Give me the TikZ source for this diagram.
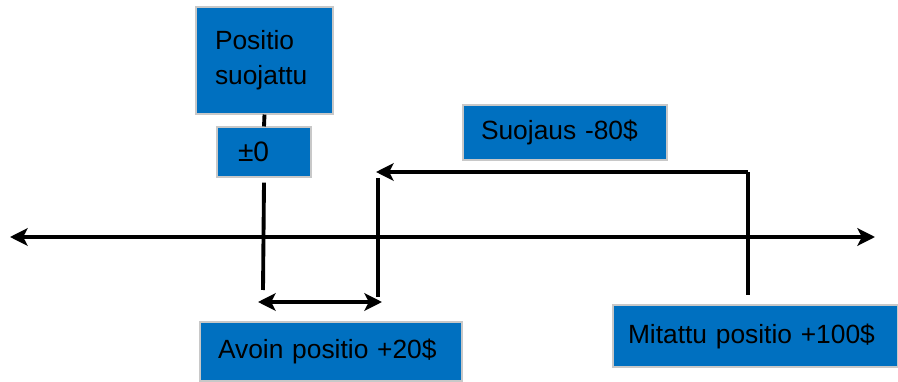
\documentclass[tikz,border=0pt]{standalone}
\usepackage{fontspec}
\setmainfont{Liberation Sans}
\usepackage{xcolor}
\usetikzlibrary{arrows.meta, positioning}

\definecolor{boxblue}{HTML}{0070C0}
\definecolor{boxedge}{HTML}{C8C8C8}

\tikzset{
    infobox/.style={draw=boxedge, line width=0.6pt, fill=boxblue, rectangle,
        align=left, font=\fontsize{15}{20}\selectfont, inner sep=0pt},
    axisline/.style={line width=2.2pt, black},
    head/.tip={Stealth[length=10pt, width=10pt, inset=2.5pt]},
    tip/.style={-head},
    twotips/.style={head-head}
}

\begin{document}
\begin{tikzpicture}
    \useasboundingbox (0,0) rectangle (17.96,7.62);

    % Boxes
    \node[infobox, minimum width=2.74cm, minimum height=2.14cm,
          text width=1.98cm] (suojattu) at (5.29,6.41) {Positio\\suojattu\\[10pt]};
    \node[infobox, minimum width=1.88cm, minimum height=1.0cm,
          text width=1.04cm, font=\fontsize{16}{20}\selectfont] (nolla) at (5.28,4.58) {±0};
    \node[infobox, minimum width=4.08cm, minimum height=1.10cm,
          text width=3.36cm] (suojaus) at (11.30,4.97) {Suojaus -80\$};
    \node[infobox, minimum width=5.24cm, minimum height=1.18cm,
          text width=4.52cm] (avoin) at (6.62,0.59) {Avoin positio +20\$};
    \node[infobox, minimum width=5.70cm, minimum height=1.24cm,
          text width=5.10cm] (mitattu) at (15.11,0.90) {Mitattu positio +100\$};

    % Points on the lines
    \coordinate (vasen) at (0.20,2.88);
    \coordinate (oikea) at (17.50,2.88);
    \coordinate (nollaala) at (5.26,1.82);
    \coordinate (suojausyla) at (7.56,4.06);
    \coordinate (suojausala) at (7.56,1.68);
    \coordinate (mitattuyla) at (14.96,4.18);
    \coordinate (mitattuala) at (14.96,1.72);
    \coordinate (nuolialku) at (14.96,4.18);
    \coordinate (nuolikarki) at (7.52,4.18);
    \coordinate (avoinvasen) at (5.16,1.58);
    \coordinate (avoinoikea) at (7.64,1.58);

    % Axis
    \draw[axisline, twotips] (vasen) -- (oikea);

    % Vertical markers
    \draw[axisline] (suojattu.south) -- (nolla.north);
    \draw[axisline] ([yshift=-0.1cm]nolla.south) -- (nollaala);
    \draw[axisline] (suojausyla) -- (suojausala);
    \draw[axisline] (mitattuyla) -- (mitattuala);

    % Hedge arrow and open position span
    \draw[axisline, tip] (nuolialku) -- (nuolikarki);
    \draw[axisline, twotips] (avoinvasen) -- (avoinoikea);
\end{tikzpicture}
\end{document}
